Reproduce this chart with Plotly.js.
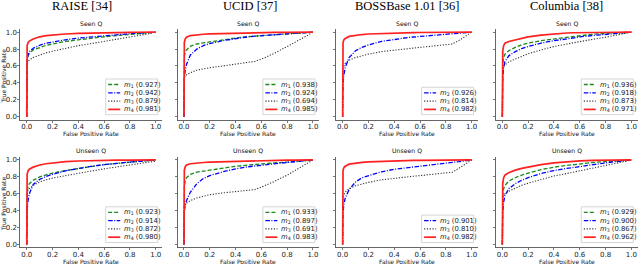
<!DOCTYPE html>
<html><head><meta charset="utf-8">
<script src="https://cdn.plot.ly/plotly-3.0.1.min.js"></script>
<style>html,body{margin:0;padding:0;background:#fff}#chart{width:640px;height:265px}</style>
</head><body><div id="chart"></div>
<script>
// ---------- data ----------
const fpr = [0, 0.003, 0.01, 0.02, 0.05, 0.1, 0.15, 0.2, 0.3, 0.4, 0.5, 0.55, 0.6, 0.7, 0.8, 0.85, 0.9, 0.95, 1.0];
const tickVals = [0, 0.2, 0.4, 0.6, 0.8, 1.0];
const tickLabels = ['0.0', '0.2', '0.4', '0.6', '0.8', '1.0'];
const datasets = ['RAISE [34]', 'UCID [37]', 'BOSSBase 1.01 [36]', 'Columbia [38]'];
const rowTitles = ['Seen Q', 'Unseen Q'];
const methodLabels = ['<i>m</i><sub>1</sub>', '<i>m</i><sub>2</sub>', '<i>m</i><sub>3</sub>', '<i>m</i><sub>4</sub>'];

// Seen Q
const raiseSeenTpr = [
  [0, 0.66, 0.72, 0.75, 0.79, 0.82, 0.845, 0.86, 0.89, 0.91, 0.93, 0.937, 0.945, 0.96, 0.972, 0.978, 0.985, 0.992, 1],
  [0, 0.66, 0.73, 0.77, 0.81, 0.845, 0.87, 0.885, 0.91, 0.93, 0.945, 0.952, 0.96, 0.972, 0.982, 0.986, 0.99, 0.995, 1],
  [0, 0.62, 0.65, 0.67, 0.70, 0.73, 0.755, 0.775, 0.81, 0.84, 0.865, 0.877, 0.89, 0.915, 0.94, 0.952, 0.965, 0.982, 1],
  [0, 0.84, 0.875, 0.895, 0.92, 0.945, 0.958, 0.967, 0.978, 0.986, 0.991, 0.993, 0.995, 0.997, 0.998, 0.999, 0.999, 1, 1]
];
const raiseSeenAuc = [0.927, 0.942, 0.879, 0.981];

const ucidSeenTpr = [
  [0, 0.72, 0.76, 0.79, 0.835, 0.86, 0.873, 0.885, 0.91, 0.93, 0.948, 0.953, 0.96, 0.97, 0.98, 0.985, 0.99, 0.995, 1],
  [0, 0.45, 0.55, 0.62, 0.73, 0.80, 0.84, 0.865, 0.90, 0.925, 0.945, 0.953, 0.96, 0.97, 0.98, 0.985, 0.99, 0.995, 1],
  [0, 0.46, 0.48, 0.495, 0.52, 0.55, 0.565, 0.58, 0.60, 0.62, 0.64, 0.655, 0.68, 0.75, 0.83, 0.87, 0.91, 0.955, 1],
  [0, 0.88, 0.92, 0.94, 0.96, 0.97, 0.975, 0.98, 0.985, 0.99, 0.992, 0.993, 0.995, 0.997, 0.998, 0.999, 0.999, 1, 1]
];
const ucidSeenAuc = [0.938, 0.924, 0.694, 0.985];

const bossSeenTpr = [
  null,
  [0, 0.40, 0.50, 0.58, 0.70, 0.78, 0.82, 0.85, 0.89, 0.915, 0.935, 0.943, 0.95, 0.965, 0.975, 0.98, 0.99, 0.995, 1],
  [0, 0.57, 0.60, 0.63, 0.67, 0.70, 0.72, 0.74, 0.77, 0.79, 0.805, 0.812, 0.82, 0.835, 0.85, 0.86, 0.90, 0.95, 1],
  [0, 0.88, 0.91, 0.925, 0.95, 0.965, 0.972, 0.978, 0.985, 0.99, 0.993, 0.994, 0.996, 0.997, 0.998, 0.999, 0.999, 1, 1]
];
const bossSeenAuc = [null, 0.926, 0.814, 0.982];

const columbiaSeenTpr = [
  [0, 0.62, 0.70, 0.74, 0.78, 0.82, 0.85, 0.87, 0.90, 0.92, 0.94, 0.95, 0.96, 0.975, 0.985, 0.989, 0.993, 0.997, 1],
  [0, 0.45, 0.58, 0.65, 0.72, 0.77, 0.805, 0.83, 0.87, 0.90, 0.92, 0.932, 0.945, 0.96, 0.975, 0.982, 0.99, 0.995, 1],
  [0, 0.55, 0.59, 0.61, 0.65, 0.68, 0.715, 0.745, 0.79, 0.83, 0.86, 0.875, 0.89, 0.915, 0.94, 0.952, 0.97, 0.985, 1],
  [0, 0.78, 0.84, 0.87, 0.89, 0.91, 0.93, 0.945, 0.965, 0.98, 0.99, 0.993, 0.995, 0.997, 0.998, 0.999, 0.999, 1, 1]
];
const columbiaSeenAuc = [0.936, 0.918, 0.873, 0.971];

// Unseen Q
const raiseUnseenTpr = [
  [0, 0.62, 0.69, 0.72, 0.76, 0.80, 0.825, 0.845, 0.875, 0.90, 0.925, 0.935, 0.945, 0.96, 0.975, 0.982, 0.99, 0.995, 1],
  [0, 0.40, 0.52, 0.60, 0.71, 0.77, 0.805, 0.83, 0.87, 0.90, 0.925, 0.935, 0.945, 0.96, 0.975, 0.982, 0.99, 0.995, 1],
  [0, 0.60, 0.64, 0.66, 0.70, 0.74, 0.765, 0.785, 0.815, 0.845, 0.87, 0.882, 0.895, 0.92, 0.945, 0.955, 0.965, 0.975, 0.985],
  [0, 0.83, 0.87, 0.89, 0.915, 0.94, 0.955, 0.965, 0.98, 0.988, 0.993, 0.995, 0.997, 0.998, 0.999, 0.999, 1, 1, 1]
];
const raiseUnseenAuc = [0.923, 0.914, 0.872, 0.980];

const ucidUnseenTpr = [
  [0, 0.70, 0.75, 0.79, 0.83, 0.855, 0.868, 0.88, 0.90, 0.925, 0.94, 0.948, 0.955, 0.965, 0.975, 0.98, 0.99, 0.995, 1],
  [0, 0.40, 0.46, 0.52, 0.62, 0.72, 0.78, 0.815, 0.86, 0.895, 0.92, 0.93, 0.94, 0.955, 0.97, 0.977, 0.985, 0.993, 1],
  [0, 0.45, 0.47, 0.49, 0.52, 0.55, 0.57, 0.59, 0.61, 0.625, 0.64, 0.65, 0.68, 0.745, 0.82, 0.865, 0.91, 0.955, 1],
  [0, 0.88, 0.92, 0.94, 0.955, 0.965, 0.97, 0.975, 0.98, 0.985, 0.99, 0.991, 0.993, 0.995, 0.997, 0.998, 0.999, 1, 1]
];
const ucidUnseenAuc = [0.933, 0.897, 0.691, 0.983];

const bossUnseenTpr = [
  null,
  [0, 0.38, 0.48, 0.55, 0.65, 0.74, 0.79, 0.815, 0.86, 0.89, 0.91, 0.92, 0.93, 0.95, 0.965, 0.972, 0.98, 0.99, 1],
  [0, 0.56, 0.59, 0.62, 0.66, 0.695, 0.715, 0.735, 0.765, 0.785, 0.80, 0.808, 0.815, 0.83, 0.845, 0.855, 0.90, 0.95, 1],
  [0, 0.88, 0.91, 0.925, 0.95, 0.965, 0.972, 0.978, 0.985, 0.99, 0.993, 0.994, 0.996, 0.997, 0.998, 0.999, 0.999, 1, 1]
];
const bossUnseenAuc = [null, 0.901, 0.810, 0.982];

const columbiaUnseenTpr = [
  [0, 0.58, 0.66, 0.70, 0.75, 0.79, 0.82, 0.845, 0.885, 0.915, 0.935, 0.945, 0.955, 0.97, 0.98, 0.985, 0.99, 0.995, 1],
  [0, 0.38, 0.50, 0.58, 0.66, 0.72, 0.76, 0.79, 0.84, 0.875, 0.90, 0.912, 0.925, 0.945, 0.965, 0.975, 0.985, 0.993, 1],
  [0, 0.55, 0.58, 0.60, 0.63, 0.67, 0.70, 0.725, 0.77, 0.81, 0.84, 0.855, 0.87, 0.90, 0.93, 0.945, 0.965, 0.982, 1],
  [0, 0.72, 0.79, 0.82, 0.85, 0.88, 0.90, 0.915, 0.945, 0.965, 0.98, 0.985, 0.99, 0.995, 0.997, 0.998, 0.999, 1, 1]
];
const columbiaUnseenAuc = [0.929, 0.900, 0.867, 0.962];

// ---------- styling / layout ----------
const W = 640, H = 265;
const colLeft = [20.3, 177.5, 336.2, 495.9];
const colW = 141.9;
const rowTop = [29.2, 157];
const rowH = 90.5;
const colTitleX = [81.7, 250.8, 407.5, 566.7];

const lineColors = ['#1a8a1a', '#0000ff', '#333333', '#ff2020'];
const lineDash = ['4px,2px', '4.5px,1.5px,1px,1.5px', '1.2px,1.6px', 'solid'];
const lineWidth = [1.3, 1.3, 1.1, 1.7];

const panels = [
  {tpr: raiseSeenTpr, auc: raiseSeenAuc},
  {tpr: ucidSeenTpr, auc: ucidSeenAuc},
  {tpr: bossSeenTpr, auc: bossSeenAuc},
  {tpr: columbiaSeenTpr, auc: columbiaSeenAuc},
  {tpr: raiseUnseenTpr, auc: raiseUnseenAuc},
  {tpr: ucidUnseenTpr, auc: ucidUnseenAuc},
  {tpr: bossUnseenTpr, auc: bossUnseenAuc},
  {tpr: columbiaUnseenTpr, auc: columbiaUnseenAuc}
];

const FONT = 'DejaVu Sans';
const axisColor = '#555555';
const traces = [];
const layout = {
  width: W, height: H,
  margin: {l: 0, r: 0, t: 0, b: 0},
  paper_bgcolor: '#ffffff', plot_bgcolor: '#ffffff',
  showlegend: false,
  shapes: [], annotations: []
};
const px = x => x / W;
const py = y => 1 - y / H;

panels.forEach((p, i) => {
  const r = Math.floor(i / 4), c = i % 4;
  const idx = i + 1;
  const sfx = idx === 1 ? '' : String(idx);
  const left = colLeft[c], top = rowTop[r];
  layout['xaxis' + sfx] = {
    domain: [px(left), px(left + colW)],
    anchor: 'y' + sfx,
    range: [-0.05, 1.05],
    tickvals: tickVals, ticktext: tickLabels,
    showline: true, linecolor: axisColor, linewidth: 0.9, mirror: false,
    ticks: 'outside', ticklen: 2, tickwidth: 0.8, tickcolor: axisColor,
    ticklabelstandoff: -2,
    showgrid: false, zeroline: false,
    tickfont: {family: FONT, size: 7, color: '#222'}
  };
  layout['yaxis' + sfx] = {
    domain: [py(top + rowH), py(top)],
    anchor: 'x' + sfx,
    range: [-0.035, 1.035],
    tickvals: tickVals, ticktext: tickLabels,
    showticklabels: c === 0,
    showline: true, linecolor: axisColor, linewidth: 0.9, mirror: false,
    ticks: 'outside', ticklen: 2, tickwidth: 0.8, tickcolor: axisColor,
    ticklabelstandoff: -1,
    showgrid: false, zeroline: false,
    tickfont: {family: FONT, size: 7, color: '#222'}
  };
  // curves
  p.tpr.forEach((t, k) => {
    if (!t) return;
    traces.push({
      x: fpr, y: t, xaxis: 'x' + sfx, yaxis: 'y' + sfx,
      type: 'scatter', mode: 'lines', hoverinfo: 'skip',
      line: {color: lineColors[k], width: lineWidth[k], dash: lineDash[k]}
    });
  });
  // subplot title
  layout.annotations.push({
    xref: 'paper', yref: 'paper', x: px(left + colW / 2), y: py(r === 0 ? 24 : 150.7),
    xanchor: 'center', yanchor: 'middle', showarrow: false,
    text: rowTitles[r], font: {family: FONT, size: 6.2, color: '#111'}
  });
  // x-axis title
  layout.annotations.push({
    xref: 'paper', yref: 'paper', x: px(left + colW / 2), y: py(r === 0 ? 133.5 : 261.5),
    xanchor: 'center', yanchor: 'middle', showarrow: false,
    text: 'False Positive Rate', font: {family: FONT, size: 6, color: '#111'}
  });
  if (c === 0) {
    layout.annotations.push({
      xref: 'paper', yref: 'paper', x: px(3.6), y: py(top + rowH / 2 + 1.5),
      xanchor: 'center', yanchor: 'middle', showarrow: false, textangle: -90,
      text: 'True Positive Rate', font: {family: FONT, size: 6, color: '#111'}
    });
  }
  // legend box
  const entries = [];
  p.tpr.forEach((t, k) => { if (t) entries.push(k); });
  const n = entries.length;
  const boxRight = left + colW - 4.5, boxBottom = top + rowH - 5;
  const boxW = 52, boxH = 8.3 * n + 2.5;
  const boxLeft = boxRight - boxW, boxTop = boxBottom - boxH;
  layout.shapes.push({
    type: 'rect', xref: 'paper', yref: 'paper',
    x0: px(boxLeft), x1: px(boxRight), y0: py(boxBottom), y1: py(boxTop),
    line: {color: '#cccccc', width: 0.8}, fillcolor: 'rgba(255,255,255,0.85)'
  });
  entries.forEach((k, j) => {
    const yy = boxTop + 5.5 + 8.3 * j;
    layout.shapes.push({
      type: 'line', xref: 'paper', yref: 'paper',
      x0: px(boxLeft + 2.5), x1: px(boxLeft + 14.5), y0: py(yy), y1: py(yy),
      line: {color: lineColors[k], width: lineWidth[k], dash: lineDash[k]}
    });
    layout.annotations.push({
      xref: 'paper', yref: 'paper', x: px(boxLeft + 16.5), y: py(yy),
      xanchor: 'left', yanchor: 'middle', showarrow: false,
      text: methodLabels[k] + ' (' + p.auc[k].toFixed(3) + ')',
      font: {family: FONT, size: 6.8, color: '#222'}
    });
  });
});

// column (dataset) titles
datasets.forEach((d, c) => {
  layout.annotations.push({
    xref: 'paper', yref: 'paper', x: px(colTitleX[c]), y: py(6.2),
    xanchor: 'center', yanchor: 'middle', showarrow: false,
    text: d, font: {family: 'Liberation Serif', size: 12.5, color: '#000'}
  });
});

Plotly.newPlot('chart', traces, layout, {staticPlot: true, displayModeBar: false});
</script>
</body></html>
